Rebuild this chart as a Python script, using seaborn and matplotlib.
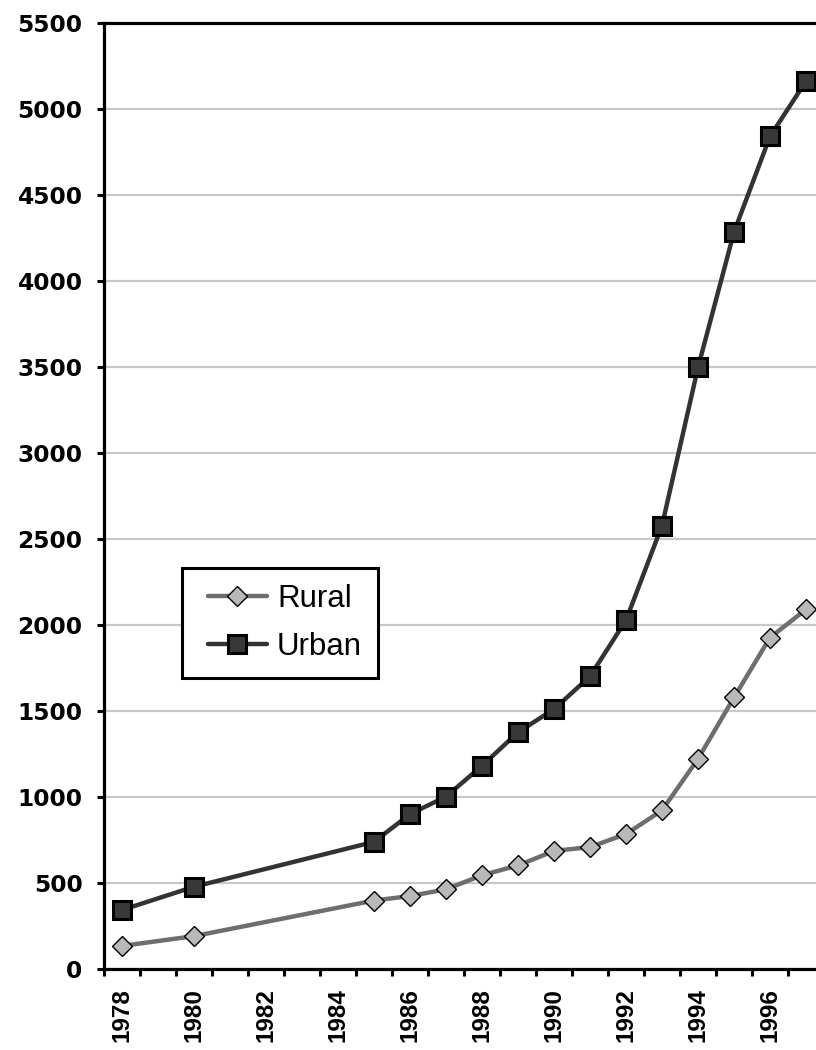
import matplotlib
matplotlib.use("Agg")
import numpy as np
import pandas as pd
import seaborn as sns
import matplotlib.pyplot as plt
from matplotlib.lines import Line2D
from matplotlib.legend_handler import HandlerLine2D

# ---- data ----
years = [1978, 1980, 1985, 1986, 1987, 1988, 1989, 1990, 1991, 1992,
         1993, 1994, 1995, 1996, 1997]
rural = [134, 191, 398, 424, 463, 545, 602, 686, 709, 784,
         922, 1221, 1578, 1926, 2090]
urban = [343, 478, 739, 900, 1002, 1181, 1376, 1510, 1701, 2027,
         2577, 3496, 4283, 4839, 5160]
category_years = list(range(1978, 1998))
tick_years = list(range(1978, 1997, 2))
tick_labels = [str(y) for y in tick_years]
y_ticks = list(range(0, 5501, 500))

sns.set_theme(style="white")
plt.rcParams["font.family"] = ["DejaVu Sans"]
plt.rcParams["text.color"] = "black"
plt.rcParams["xtick.color"] = "black"
plt.rcParams["ytick.color"] = "black"

first = category_years[0]
df = pd.DataFrame({
    "pos": [y - first for y in years] * 2,
    "Income": rural + urban,
    "Series": ["Rural"] * len(years) + ["Urban"] * len(years),
})

W, H = 816, 1050
fig = plt.figure(figsize=(W / 100, H / 100), dpi=100)
left, right, top, bottom = 104, 824, 22.7, 969
ax = fig.add_axes([left / W, 1 - bottom / H, (right - left) / W, (bottom - top) / H])

ax.yaxis.grid(True, color="#c8c8c8", linewidth=1.6)
ax.xaxis.grid(False)
ax.set_axisbelow(True)

sns.lineplot(data=df[df.Series == "Rural"], x="pos", y="Income", ax=ax,
             color="#6e6e6e", linewidth=3.2, marker="D", markersize=10.5,
             markerfacecolor="#b8b8b8", markeredgecolor="black",
             markeredgewidth=1.0, label="Rural")
sns.lineplot(data=df[df.Series == "Urban"], x="pos", y="Income", ax=ax,
             color="#333333", linewidth=3.2, marker="s", markersize=13,
             markerfacecolor="#383838", markeredgecolor="black",
             markeredgewidth=2.2, label="Urban")

ax.set_xlim(-0.5, len(category_years) - 0.5)
ax.set_ylim(0, 5500)
ax.set_xlabel("")
ax.set_ylabel("")

ax.set_xticks([y - first for y in tick_years])
ax.set_xticklabels(tick_labels, rotation=90, fontsize=17.5,
                   family="Liberation Sans", fontweight="bold", color="black")
ax.set_xticks(np.arange(-0.5, len(category_years), 1.0), minor=True)
ax.tick_params(axis="x", which="major", length=0, pad=13.5, colors="black")
ax.tick_params(axis="x", which="minor", length=5, width=2.2, direction="out",
               color="black", bottom=True)

ax.set_yticks(y_ticks)
ax.set_yticklabels([str(v) for v in y_ticks], fontsize=16.8,
                   fontweight="bold", color="black")
ax.tick_params(axis="y", which="major", length=5, width=2.2, direction="out",
               pad=10.5, color="black", left=True)

for side in ["left", "bottom", "top"]:
    ax.spines[side].set_visible(True)
    ax.spines[side].set_color("black")
    ax.spines[side].set_linewidth(2.3)
ax.spines["right"].set_visible(False)

leg = ax.legend(loc="upper left", bbox_to_anchor=(181.7 / W, 1 - 568 / H),
                bbox_transform=fig.transFigure, borderaxespad=0,
                frameon=True, fancybox=False, shadow=False,
                prop={"family": "Liberation Sans", "size": 22.5},
                handlelength=2.23, handletextpad=0.32, labelspacing=0.6,
                borderpad=0.5,
                handler_map={Line2D: HandlerLine2D(xpad=0.33)})
leg.get_frame().set_edgecolor("black")
leg.get_frame().set_linewidth(2.2)
leg.get_frame().set_facecolor("white")
leg.get_frame().set_alpha(1)
for t in leg.get_texts():
    t.set_color("black")

fig.savefig("out.png", dpi=100)
